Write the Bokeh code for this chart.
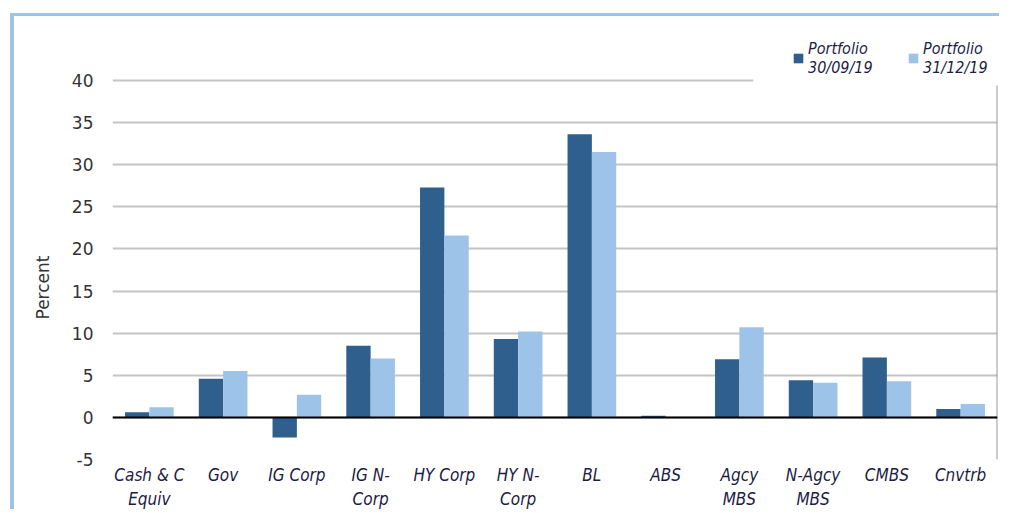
from bokeh.plotting import figure
from bokeh.models import (FactorRange, ColumnDataSource, FixedTicker, Span, Legend,
                          LegendItem, Range1d, Title)
from bokeh.transform import dodge
from bokeh.embed import file_html
from bokeh.resources import INLINE

categories = ["Cash & C\nEquiv", "Gov", "IG Corp", "IG N-\nCorp", "HY Corp", "HY N-\nCorp",
              "BL", "ABS", "Agcy\nMBS", "N-Agcy\nMBS", "CMBS", "Cnvtrb"]
portfolio_sep = [0.6, 4.6, -2.4, 8.5, 27.3, 9.3, 33.6, 0.2, 6.9, 4.4, 7.1, 1.0]
portfolio_dec = [1.2, 5.5, 2.7, 7.0, 21.6, 10.2, 31.5, 0.0, 10.7, 4.1, 4.3, 1.6]
y_ticks = [-5, 0, 5, 10, 15, 20, 25, 30, 35, 40]
legend_labels = ["Portfolio\n30/09/19", "Portfolio\n31/12/19"]

DARK = "#2f5f8c"
LIGHT = "#9dc4e8"
FRAME_BLUE = "#9dc4e8"
GRID = "#c4c4c4"

src = ColumnDataSource(dict(cat=categories, sep=portfolio_sep, dec=portfolio_dec))

p = figure(width=989, height=496, output_backend="svg", toolbar_location=None,
           x_range=FactorRange(*categories), y_range=Range1d(-5, 47),
           min_border_left=96, min_border_right=6, min_border_top=5, min_border_bottom=53)
p.margin = (13, 0, 0, 10)
p.styles = {"border-left": "4px solid " + FRAME_BLUE, "border-top": "3px solid " + FRAME_BLUE}
p.outline_line_color = None
p.background_fill_color = "white"

r1 = p.vbar(x=dodge("cat", -0.165, range=p.x_range), top="sep", width=0.33, source=src,
            fill_color=DARK, line_color=None)
r2 = p.vbar(x=dodge("cat", 0.165, range=p.x_range), top="dec", width=0.33, source=src,
            fill_color=LIGHT, line_color=None)

p.xgrid.grid_line_color = None
p.ygrid.ticker = FixedTicker(ticks=y_ticks[:-1])
p.ygrid.grid_line_color = GRID
p.ygrid.grid_line_width = 2

# top gridline stops short of the legend
top_src = ColumnDataSource(dict(x0=[categories[0]], x1=[categories[8]], y=[y_ticks[-1]]))
p.segment(x0=dodge("x0", -0.5, range=p.x_range), x1=dodge("x1", 0.19, range=p.x_range),
          y0="y", y1="y", source=top_src, line_color=GRID, line_width=2)

# right-hand border line of the plot area
right_src = ColumnDataSource(dict(x=[categories[-1]], y0=[y_ticks[0]], y1=[39.4]))
p.segment(x0=dodge("x", 0.5, range=p.x_range), x1=dodge("x", 0.5, range=p.x_range),
          y0="y0", y1="y1", source=right_src, line_color="#9a9a9a", line_width=2)

p.add_layout(Span(location=0, dimension="width", line_color="black", line_width=2))

# y axis
ya = p.yaxis[0]
ya.ticker = FixedTicker(ticks=y_ticks)
ya.major_label_overrides = {-5: "-5"}
ya.axis_line_color = None
ya.major_tick_line_color = None
ya.minor_tick_line_color = None
ya.major_tick_out = 0
ya.major_tick_in = 0
ya.minor_tick_out = 0
ya.major_label_standoff = 19
ya.major_label_text_font = "DejaVu Sans"
ya.major_label_text_font_size = "17px"
ya.major_label_text_color = "#333333"

# y axis title, placed lower than the centre as in the original
ytitle = Title(text="Percent", align="left", offset=140, standoff=32,
               text_font="DejaVu Sans", text_font_style="normal",
               text_font_size="17px", text_color="#333333")
p.add_layout(ytitle, "left")

# x axis
xa = p.xaxis[0]
xa.axis_line_color = None
xa.major_tick_line_color = None
xa.minor_tick_line_color = None
xa.major_tick_out = 0
xa.major_tick_in = 0
xa.minor_tick_out = 0
xa.major_label_standoff = 5
xa.major_label_text_font = "DejaVu Sans Condensed"
xa.major_label_text_font_style = "italic"
xa.major_label_text_font_size = "17px"
xa.major_label_text_line_height = 1.2
xa.major_label_text_color = "#1c1c44"

legend = Legend(items=[LegendItem(label=legend_labels[0], renderers=[r1]),
                       LegendItem(label=legend_labels[1], renderers=[r2])],
                orientation="horizontal", location=(680, 382),
                label_text_font="DejaVu Sans Condensed", label_text_font_style="italic",
                label_text_font_size="16px", label_text_color="#1c1c44",
                label_text_line_height=1.25, label_width=69,
                glyph_width=12, glyph_height=12, label_standoff=4, spacing=30,
                border_line_color=None, background_fill_alpha=0, padding=0, margin=0)
p.add_layout(legend)

open("out.html", "w").write(file_html(p, INLINE))
